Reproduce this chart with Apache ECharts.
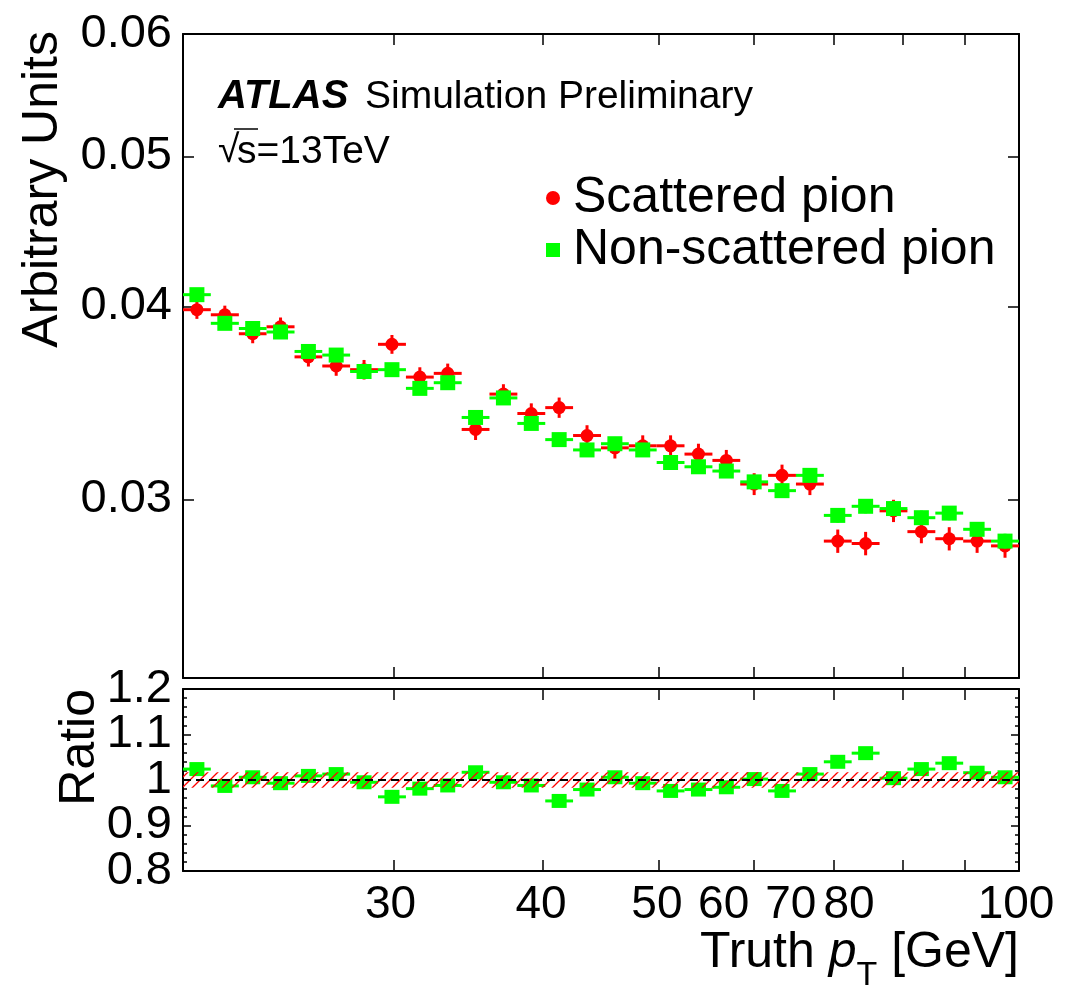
<!DOCTYPE html>
<html>
<head>
<meta charset="utf-8">
<script src="https://cdn.jsdelivr.net/npm/echarts@6/dist/echarts.min.js"></script>
<style>
  html, body { margin: 0; padding: 0; background: #ffffff; }
  #chart { width: 1069px; height: 995px; }
</style>
</head>
<body>
<div id="chart"></div>
<script>
// Truth pT bin edges [GeV]: 30 logarithmic bins between 20 and 100
const binEdges = [20.00, 21.10, 22.27, 23.49, 24.79, 26.15, 27.59, 29.11, 30.72, 32.41,
  34.20, 36.08, 38.07, 40.17, 42.38, 44.72, 47.18, 49.78, 52.52, 55.42,
  58.47, 61.69, 65.09, 68.68, 72.46, 76.46, 80.67, 85.12, 89.81, 94.76, 100.00];

// Normalised pT spectrum of scattered pions (arbitrary units)
const scattered = [0.0398, 0.0395, 0.0384, 0.0388, 0.0371, 0.0366, 0.0364, 0.0378, 0.0360, 0.0362,
  0.0333, 0.0351, 0.0341, 0.0344, 0.0330, 0.0324, 0.0325, 0.0325, 0.0321, 0.0318,
  0.0307, 0.0311, 0.0307, 0.0282, 0.0281, 0.0295, 0.0286, 0.0283, 0.0282, 0.0280];
const scatteredErr = [0.00054, 0.00054, 0.00054, 0.00054, 0.00053, 0.00053, 0.00053, 0.00053, 0.00053, 0.00053,
  0.00052, 0.00052, 0.00052, 0.00052, 0.00051, 0.00051, 0.00051, 0.00051, 0.00050, 0.00050,
  0.00050, 0.00050, 0.00050, 0.00049, 0.00049, 0.00049, 0.00049, 0.00049, 0.00049, 0.00049];

// Normalised pT spectrum of non-scattered pions (arbitrary units)
const nonScattered = [0.0407, 0.0390, 0.0387, 0.0385, 0.0374, 0.0372, 0.0363, 0.0364, 0.0354, 0.0357,
  0.0339, 0.0349, 0.0336, 0.0328, 0.0323, 0.0326, 0.0323, 0.0317, 0.0315, 0.0313,
  0.0308, 0.0304, 0.0311, 0.0293, 0.0297, 0.0296, 0.0292, 0.0294, 0.0287, 0.0282];
const nonScatteredErr = [0.00035, 0.00035, 0.00035, 0.00035, 0.00034, 0.00034, 0.00034, 0.00034, 0.00034, 0.00034,
  0.00033, 0.00033, 0.00033, 0.00033, 0.00033, 0.00033, 0.00032, 0.00032, 0.00032, 0.00032,
  0.00032, 0.00032, 0.00032, 0.00031, 0.00031, 0.00031, 0.00031, 0.00031, 0.00031, 0.00031];

// Ratio non-scattered / scattered
const ratio = [1.024, 0.987, 1.006, 0.993, 1.009, 1.013, 0.995, 0.963, 0.981, 0.988,
  1.017, 0.995, 0.988, 0.954, 0.979, 1.006, 0.993, 0.976, 0.979, 0.984,
  1.002, 0.976, 1.013, 1.040, 1.059, 1.004, 1.024, 1.037, 1.016, 1.006];
const ratioErr = [0.012, 0.012, 0.012, 0.012, 0.012, 0.012, 0.012, 0.012, 0.012, 0.012,
  0.012, 0.012, 0.012, 0.012, 0.012, 0.012, 0.012, 0.012, 0.012, 0.012,
  0.013, 0.013, 0.013, 0.013, 0.013, 0.013, 0.013, 0.013, 0.013, 0.013];
// Half-width of the hatched uncertainty band around unity
const ratioBand = 0.017;

// Axis ticks and labels
const xTickValues = [30, 40, 50, 60, 70, 80, 90];
const xLabelValues = [30, 40, 50, 60, 70, 80, 100];
const yTickValues = [0.03, 0.04, 0.05, 0.06];
const yLabelValues = [0.03, 0.04, 0.05, 0.06];
// ratio labels are split over two axes so none of them gets dropped as overlapping
const ratioLabelsA = [0.8, 1.0, 1.2];
const ratioLabelsB = [0.9, 1.1];

const FONT = '"Liberation Sans", Arial, Helvetica, sans-serif';
const RED = '#ff0000';
const GREEN = '#00ff00';

// horizontal offsets of the bottom-axis labels relative to their ticks
const xLabelShift = { 30: -3, 40: -2, 50: -2, 60: -30, 70: -43, 80: -54, 100: -3 };
const xLabelRich = {};
xLabelValues.forEach(v => {
  xLabelRich['l' + v] = {
    fontSize: 46, fontFamily: FONT, color: '#000',
    padding: [0, Math.max(0, -2 * xLabelShift[v]), 0, Math.max(0, 2 * xLabelShift[v])]
  };
});

const nBins = binEdges.length - 1;
const lo = binEdges.slice(0, nBins);
const hi = binEdges.slice(1);
const centers = lo.map((l, i) => Math.sqrt(l * hi[i]));

function barData(vals, errs) {
  return vals.map((v, i) => [lo[i], hi[i], v, errs[i]]);
}
function pointData(vals) {
  return vals.map((v, i) => [centers[i], v]);
}

// error bars: horizontal = bin width, vertical = statistical uncertainty
function errorBars(color, lw) {
  return function (params, api) {
    const x0 = api.value(0), x1 = api.value(1), y = api.value(2), e = api.value(3);
    const xc = Math.sqrt(x0 * x1);
    const a = api.coord([x0, y]), b = api.coord([x1, y]);
    const c = api.coord([xc, y + e]), d = api.coord([xc, y - e]);
    return {
      type: 'group',
      children: [
        { type: 'line', shape: { x1: a[0], y1: a[1], x2: b[0], y2: b[1] }, style: { stroke: color, lineWidth: lw } },
        { type: 'line', shape: { x1: c[0], y1: c[1], x2: d[0], y2: d[1] }, style: { stroke: color, lineWidth: lw } }
      ]
    };
  };
}

// red diagonal hatch for the uncertainty band
const hatch = document.createElement('canvas');
hatch.width = 10; hatch.height = 10;
(function () {
  const g = hatch.getContext('2d');
  g.strokeStyle = RED;
  g.lineWidth = 1.3;
  g.beginPath();
  g.moveTo(-1, 11); g.lineTo(11, -1);
  g.moveTo(-6, 6); g.lineTo(6, -6);
  g.moveTo(4, 16); g.lineTo(16, 4);
  g.stroke();
})();

const axisLine = { show: true, onZero: false, lineStyle: { color: '#000', width: 2 } };

function xAxisCfg(grid, pos, withLabels) {
  return {
    type: 'log', logBase: 10, gridIndex: grid, position: pos, min: 20, max: 100,
    axisLine: axisLine,
    axisTick: { show: true, inside: true, length: 11, customValues: xTickValues, lineStyle: { color: '#000', width: 1.5 } },
    minorTick: { show: false },
    axisLabel: withLabels ? {
      show: true, customValues: xLabelValues, margin: 34, verticalAlign: 'middle',
      fontSize: 46, fontFamily: FONT, color: '#000',
      formatter: v => '{l' + Math.round(v) + '|' + Math.round(v) + '}',
      rich: xLabelRich
    } : { show: false },
    splitLine: { show: false }
  };
}

function yTopCfg(pos, withLabels) {
  return {
    type: 'log', logBase: 10, gridIndex: 0, position: pos, min: 0.023, max: 0.06,
    axisLine: axisLine,
    axisTick: { show: true, inside: true, length: 11, customValues: yTickValues, lineStyle: { color: '#000', width: 1.5 } },
    minorTick: { show: false },
    axisLabel: withLabels ? {
      show: true, customValues: yLabelValues, margin: 11,
      fontSize: 47, fontFamily: FONT, color: '#000',
      formatter: v => v.toFixed(2)
    } : { show: false },
    splitLine: { show: false }
  };
}

const ratioFormatter = v => (Math.abs(v - 1) < 1e-9 ? '1' : v.toFixed(1));

function yRatioCfg(pos, labels, drawn) {
  return {
    type: 'value', gridIndex: 1, position: pos, offset: 0, min: 0.8, max: 1.2, interval: 0.1,
    axisLine: drawn ? axisLine : { show: false },
    axisTick: drawn ? { show: true, inside: true, length: 8, lineStyle: { color: '#000', width: 1.5 } } : { show: false },
    minorTick: drawn ? { show: true, splitNumber: 5, length: 4, lineStyle: { color: '#000', width: 1.5 } } : { show: false },
    axisLabel: labels ? {
      show: true, customValues: labels, margin: 11,
      fontSize: 47, fontFamily: FONT, color: '#000',
      showMinLabel: true, showMaxLabel: true, hideOverlap: false,
      formatter: ratioFormatter
    } : { show: false },
    splitLine: { show: false }
  };
}

const chart = echarts.init(document.getElementById('chart'), null, { renderer: 'canvas' });

chart.setOption({
  backgroundColor: '#ffffff',
  animation: false,
  grid: [
    { left: 183, top: 34, width: 836, height: 644, outerBoundsMode: 'none' },
    { left: 183, top: 689, width: 836, height: 182, outerBoundsMode: 'none' }
  ],
  xAxis: [
    xAxisCfg(0, 'bottom', false),
    xAxisCfg(0, 'top', false),
    xAxisCfg(1, 'bottom', true),
    xAxisCfg(1, 'top', false)
  ],
  yAxis: [
    yTopCfg('left', true),
    yTopCfg('right', false),
    yRatioCfg('left', ratioLabelsA, true),
    yRatioCfg('right', null, true),
    yRatioCfg('left', ratioLabelsB, false)
  ],
  legend: {
    orient: 'vertical', left: 541, top: 168, itemGap: 2,
    itemWidth: 14, itemHeight: 14,
    textStyle: { fontSize: 50, fontFamily: FONT, color: '#000', lineHeight: 50, padding: [0, 0, 0, 8] },
    data: [
      { name: 'Scattered pion', icon: 'circle' },
      { name: 'Non-scattered pion', icon: 'rect' }
    ],
    selectedMode: false
  },
  series: [
    {
      name: 'scattered-errors', type: 'custom', xAxisIndex: 0, yAxisIndex: 0, z: 2,
      renderItem: errorBars(RED, 3), encode: { x: [0, 1], y: 2 },
      data: barData(scattered, scatteredErr)
    },
    {
      name: 'Scattered pion', type: 'scatter', xAxisIndex: 0, yAxisIndex: 0, z: 3,
      symbol: 'circle', symbolSize: 13, itemStyle: { color: RED, opacity: 1 },
      data: pointData(scattered)
    },
    {
      name: 'non-scattered-errors', type: 'custom', xAxisIndex: 0, yAxisIndex: 0, z: 4,
      renderItem: errorBars(GREEN, 3), encode: { x: [0, 1], y: 2 },
      data: barData(nonScattered, nonScatteredErr)
    },
    {
      name: 'Non-scattered pion', type: 'scatter', xAxisIndex: 0, yAxisIndex: 0, z: 5,
      symbol: 'rect', symbolSize: 15, itemStyle: { color: GREEN, opacity: 1 },
      data: pointData(nonScattered)
    },
    {
      name: 'ratio-errors', type: 'custom', xAxisIndex: 2, yAxisIndex: 2, z: 2,
      renderItem: errorBars(GREEN, 3), encode: { x: [0, 1], y: 2 },
      data: barData(ratio, ratioErr)
    },
    {
      name: 'ratio', type: 'scatter', xAxisIndex: 2, yAxisIndex: 2, z: 3,
      symbol: 'rect', symbolSize: [15, 14], itemStyle: { color: GREEN, opacity: 1 },
      data: pointData(ratio)
    },
    {
      // hatched uncertainty band and dashed reference line at unity
      name: 'band', type: 'custom', xAxisIndex: 2, yAxisIndex: 2, z: 6,
      encode: { x: [0, 1], y: 2 },
      data: [[binEdges[0], binEdges[nBins], 1]],
      renderItem: function (params, api) {
        const x0 = api.value(0), x1 = api.value(1), y = api.value(2);
        const tl = api.coord([x0, y + ratioBand]);
        const br = api.coord([x1, y - ratioBand]);
        const l = api.coord([x0, y]), r = api.coord([x1, y]);
        return {
          type: 'group',
          children: [
            { type: 'rect', shape: { x: tl[0], y: tl[1], width: br[0] - tl[0], height: br[1] - tl[1] },
              style: { fill: { image: hatch, repeat: 'repeat' }, stroke: null } },
            { type: 'line', shape: { x1: l[0], y1: l[1], x2: r[0], y2: r[1] },
              style: { stroke: '#000', lineWidth: 2, lineDash: [8, 5] } }
          ]
        };
      }
    }
  ],
  graphic: [
    { type: 'text', x: 218, y: 97, style: { text: 'ATLAS', fontSize: 40, fontWeight: 'bold', fontStyle: 'italic', fontFamily: FONT, fill: '#000', textAlign: 'left', textVerticalAlign: 'middle', align: 'left', verticalAlign: 'middle' } },
    { type: 'text', x: 365, y: 97, style: { text: 'Simulation Preliminary', fontSize: 39, fontFamily: FONT, fill: '#000', textAlign: 'left', textVerticalAlign: 'middle', align: 'left', verticalAlign: 'middle' } },
    { type: 'text', x: 218, y: 151, style: { text: '\u221A', fontSize: 39, fontFamily: FONT, fill: '#000', textAlign: 'left', textVerticalAlign: 'middle', align: 'left', verticalAlign: 'middle' } },
    { type: 'line', shape: { x1: 234, y1: 129, x2: 258, y2: 129 }, style: { stroke: '#000', lineWidth: 1.5 } },
    { type: 'text', x: 237, y: 152, style: { text: 's=13TeV', fontSize: 39, fontFamily: FONT, fill: '#000', textAlign: 'left', textVerticalAlign: 'middle', align: 'left', verticalAlign: 'middle' } },
    { type: 'text', x: 43, y: 31, rotation: Math.PI / 2, style: { text: 'Arbitrary Units', fontSize: 50, fontFamily: FONT, fill: '#000', textAlign: 'right', textVerticalAlign: 'middle', align: 'right', verticalAlign: 'middle' } },
    { type: 'text', x: 80, y: 689, rotation: Math.PI / 2, style: { text: 'Ratio', fontSize: 50, fontFamily: FONT, fill: '#000', textAlign: 'right', textVerticalAlign: 'middle', align: 'right', verticalAlign: 'middle' } },
    { type: 'text', x: 1019, y: 953, style: {
        text: '{a|Truth }{p|p}{s|T}{a| [GeV]}', textAlign: 'right', textVerticalAlign: 'middle', align: 'right', verticalAlign: 'middle',
        rich: {
          a: { fontSize: 50, fontFamily: FONT, color: '#000' },
          p: { fontSize: 50, fontFamily: FONT, fontStyle: 'italic', color: '#000' },
          s: { fontSize: 34, fontFamily: FONT, color: '#000', padding: [46, 0, 0, 0] }
        } } }
  ]
});
</script>
</body>
</html>
